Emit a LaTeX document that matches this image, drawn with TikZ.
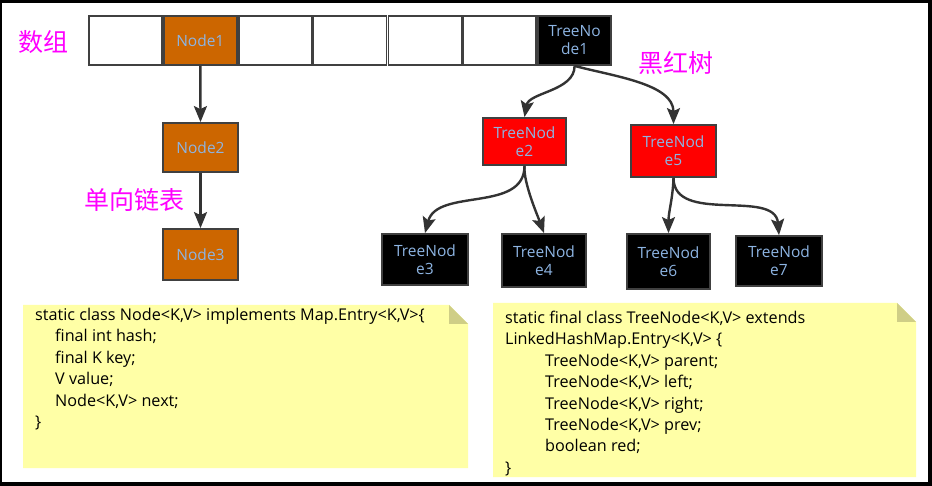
\documentclass[tikz,border=0pt]{standalone}
\usepackage{fontspec}
\setmainfont{Open Sans}
\newfontfamily\cjk{Noto Sans CJK SC}
\usetikzlibrary{arrows.meta}
\definecolor{nodeorange}{HTML}{CC6600}
\definecolor{nodered}{HTML}{FF0000}
\definecolor{labelblue}{HTML}{8DB4E2}
\definecolor{edgegray}{HTML}{333333}
\definecolor{boxgray}{HTML}{404040}
\definecolor{noteyellow}{HTML}{FFFFA6}
\definecolor{notefold}{HTML}{CFCE86}
\definecolor{cnmagenta}{HTML}{FF00FF}
\tikzset{
  cell/.style={draw=boxgray, line width=1.8pt, fill=white, minimum width=73pt, minimum height=49pt, inner sep=0pt},
  onode/.style={draw=boxgray, line width=1.8pt, fill=nodeorange, text=labelblue, inner sep=0pt,
    font=\fontsize{15.5}{18}\selectfont, align=center},
  rnode/.style={onode, fill=nodered},
  bnode/.style={onode, fill=black},
  link/.style={draw=edgegray, line width=2.4pt, -{Stealth[length=16pt,width=13pt,inset=3pt]}},
  cnlabel/.style={text=cnmagenta, font=\cjk\fontsize{25}{28}\selectfont, inner sep=0pt},
  notetext/.style={anchor=north west, align=left, inner sep=0pt, text=black,
    font=\fontsize{16.2}{21.4}\selectfont},
}
\begin{document}
\begin{tikzpicture}[x=1pt,y=-1pt]
\useasboundingbox (0,0) rectangle (932,486);
\fill[black] (0,0) rectangle (932,486);
\fill[white] (2,3) rectangle (928,482);

% array
\node[cell] (c0) at (125.4,40.5) {};
\node[cell, fill=nodeorange, text=labelblue, font=\fontsize{15.5}{18}\selectfont] (n1) at (200.3,40.5) {Node1};
\node[cell] (c2) at (275.1,40.5) {};
\node[cell] (c3) at (350.0,40.5) {};
\node[cell] (c4) at (424.9,40.5) {};
\node[cell] (c5) at (499.7,40.5) {};
\node[cell, fill=black, text=labelblue, font=\fontsize{15.5}{18}\selectfont, align=center] (t1) at (574.6,40.5) {TreeNo\\de1};

% linked list
\node[onode, minimum width=75pt, minimum height=49pt] (n2) at (200.5,147.5) {Node2};
\node[onode, minimum width=75pt, minimum height=51pt] (n3) at (200.5,254.5) {Node3};

% tree
\node[rnode, minimum width=83pt, minimum height=47pt] (t2) at (524.5,141.5) {TreeNod\\e2};
\node[rnode, minimum width=85pt, minimum height=52pt] (t5) at (673.5,151) {TreeNod\\e5};
\node[bnode, minimum width=86pt, minimum height=51pt] (t3) at (425,259.5) {TreeNod\\e3};
\node[bnode, minimum width=84pt, minimum height=53pt] (t4) at (544,260.5) {TreeNod\\e4};
\node[bnode, minimum width=83pt, minimum height=55pt] (t6) at (668.5,261.5) {TreeNod\\e6};
\node[bnode, minimum width=86pt, minimum height=50pt] (t7) at (779,261) {TreeNod\\e7};

% labels
\node[cnlabel] (lArr) at (44,42) {数组};
\node[cnlabel] (lList) at (134.5,200) {单向链表};
\node[cnlabel] (lTree) at (676,63) {黑红树};

% connectors
\draw[link] (t1.south) to[out=-90,in=80,looseness=0.9] (t2.north);
\draw[link] (n1.south) -- (n2.north);
\draw[link] (n2.south) -- (n3.north);
\draw[link] (t1.south) to[out=-15,in=90,looseness=0.9] (t5.north);
\draw[link] (t2.south) to[out=-90,in=75,looseness=1] (t3.north);
\draw[link] (t2.south) to[out=-95,in=110,looseness=0.6] (t4.north);
\draw[link] (t5.south) to[out=-92,in=90] (t6.north);
\draw[link] (t5.south) to[out=-90,in=95,looseness=1] (t7.north);

% notes
\fill[noteyellow] (23,305) -- (449,305) -- (468,324) -- (468,468) -- (23,468) -- cycle;
\fill[notefold] (449,305) -- (449,324) -- (468,324) -- cycle;
\node[notetext] (note1) at (35,308) {static class Node<K,V> implements Map.Entry<K,V>\{\\
\hspace*{20pt}final int hash;\\
\hspace*{20pt}final K key;\\
\hspace*{20pt}V value;\\
\hspace*{20pt}Node<K,V> next;\\
\}};

\fill[noteyellow] (493,303) -- (897,303) -- (916,322) -- (916,477) -- (493,477) -- cycle;
\fill[notefold] (897,303) -- (897,322) -- (916,322) -- cycle;
\node[notetext] (note2) at (505,311) {static final class TreeNode<K,V> extends\\
LinkedHashMap.Entry<K,V> \{\\
\hspace*{40pt}TreeNode<K,V> parent;\\
\hspace*{40pt}TreeNode<K,V> left;\\
\hspace*{40pt}TreeNode<K,V> right;\\
\hspace*{40pt}TreeNode<K,V> prev;\\
\hspace*{40pt}boolean red;\\
\}};
\end{tikzpicture}
\end{document}
